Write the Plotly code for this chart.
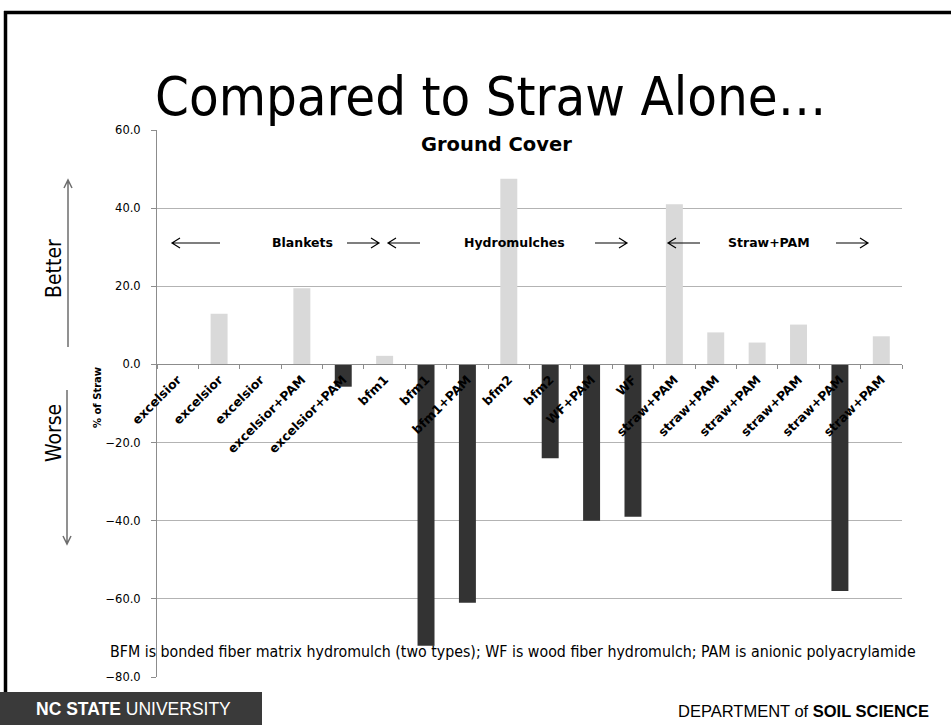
import plotly.graph_objects as go

# ---- data -------------------------------------------------------------
categories = [
    "excelsior", "excelsior", "excelsior", "excelsior+PAM", "excelsior+PAM",
    "bfm1", "bfm1", "bfm1+PAM", "bfm2", "bfm2", "WF+PAM", "WF",
    "straw+PAM", "straw+PAM", "straw+PAM", "straw+PAM", "straw+PAM", "straw+PAM",
]
pct_of_straw = [
    0.0, 13.0, 0.0, 19.5, -5.7,
    2.2, -72.0, -61.0, 47.5, -24.0, -40.0, -39.0,
    41.0, 8.2, 5.6, 10.2, -58.0, 7.2,
]
y_ticks = [-80, -60, -40, -20, 0, 20, 40, 60]
groups = ["Blankets", "Hydromulches", "Straw+PAM"]

# ---- page geometry (pixels) -----------------------------------------
FIG_W, FIG_H = 951, 725
L, R, T, B = 157, 902, 130, 677
PW, PH = R - L, B - T


def px(x):
    """pixel x -> paper x"""
    return (x - L) / PW


def py(y):
    """pixel y (from top) -> paper y"""
    return (B - y) / PH


LIGHT = "#d9d9d9"
DARK = "#333333"
bar_colors = [LIGHT if v >= 0 else DARK for v in pct_of_straw]
xpos = list(range(len(categories)))

fig = go.Figure(
    go.Bar(
        x=xpos,
        y=pct_of_straw,
        marker=dict(color=bar_colors, line=dict(width=0)),
        width=0.41,
        showlegend=False,
        hoverinfo="skip",
    )
)

FONT = "DejaVu Sans, Verdana, sans-serif"
COND = "DejaVu Sans Condensed, DejaVu Sans, sans-serif"
FOOT = "Liberation Sans, Arial, sans-serif"

fig.update_layout(
    width=FIG_W,
    height=FIG_H,
    margin=dict(l=L, r=FIG_W - R, t=T, b=FIG_H - B, pad=0),
    paper_bgcolor="white",
    plot_bgcolor="white",
    font=dict(family=FONT, color="black"),
    xaxis=dict(
        type="linear",
        range=[-0.5, len(categories) - 0.5],
        anchor="free",
        position=(0 - y_ticks[0]) / (y_ticks[-1] - y_ticks[0]),
        tickmode="array",
        tickvals=xpos,
        ticktext=categories,
        tickangle=-45,
        tickfont=dict(family=FONT, size=12.5, weight="bold", color="black"),
        ticks="",
        showgrid=False,
        zeroline=False,
        showline=True,
        linecolor="#8c8c8c",
        linewidth=1,
        minor=dict(
            tickmode="array",
            tickvals=[i - 0.5 for i in range(len(categories) + 1)],
            ticks="outside",
            ticklen=4,
            tickcolor="#8c8c8c",
            showgrid=False,
        ),
        ticklabelstandoff=2,
    ),
    yaxis=dict(
        range=[y_ticks[0], y_ticks[-1]],
        domain=[0, 1],
        tickmode="array",
        tickvals=y_ticks,
        tickformat=".1f",
        tickfont=dict(family=FONT, size=11.5, color="black"),
        ticks="outside",
        ticklen=5,
        tickcolor="#8c8c8c",
        ticklabelstandoff=8,
        showgrid=True,
        gridcolor="#b3b3b3",
        gridwidth=1,
        zeroline=False,
        showline=True,
        linecolor="#8c8c8c",
        linewidth=1,
    ),
)

ann = []
shapes = []

# slide title
ann.append(dict(text="Compared to Straw Alone…", x=px(490), y=py(96), xref="paper", yref="paper",
                xanchor="center", yanchor="middle", showarrow=False,
                font=dict(family=COND, size=54, color="black")))
# chart title
ann.append(dict(text="<b>Ground Cover</b>", x=px(496), y=py(144), xref="paper", yref="paper",
                xanchor="center", yanchor="middle", showarrow=False,
                font=dict(family=FONT, size=19.5, color="black")))
# y-axis title
ann.append(dict(text="<b>% of Straw</b>", x=px(97), y=py(398), xref="paper", yref="paper",
                xanchor="center", yanchor="middle", showarrow=False, textangle=-90,
                font=dict(family=FONT, size=10, color="black")))
# Better / Worse
ann.append(dict(text="Better", x=px(54), y=py(268), xref="paper", yref="paper",
                xanchor="center", yanchor="middle", showarrow=False, textangle=-90,
                font=dict(family=COND, size=21, color="black")))
ann.append(dict(text="Worse", x=px(54), y=py(433), xref="paper", yref="paper",
                xanchor="center", yanchor="middle", showarrow=False, textangle=-90,
                font=dict(family=COND, size=21, color="black")))
# group labels
for name, cx in zip(groups, [302, 514, 769]):
    ann.append(dict(text=f"<b>{name}</b>", x=px(cx), y=py(242), xref="paper", yref="paper",
                    xanchor="center", yanchor="middle", showarrow=False,
                    font=dict(family=FONT, size=12.5, color="black")))
# footnote
ann.append(dict(text="BFM is bonded fiber matrix hydromulch (two types); WF is wood fiber hydromulch; "
                     "PAM is anionic polyacrylamide",
                x=px(108), y=py(651), xref="paper", yref="paper",
                xanchor="left", yanchor="middle", showarrow=False,
                font=dict(family=COND, size=15.8, color="black")))
# footer
ann.append(dict(text="<b>NC STATE</b> UNIVERSITY", x=px(34), y=py(709), xref="paper", yref="paper",
                xanchor="left", yanchor="middle", showarrow=False,
                font=dict(family=FOOT, size=17.5, color="white")))
ann.append(dict(text="DEPARTMENT of <b>SOIL SCIENCE</b>", x=px(931), y=py(711), xref="paper", yref="paper",
                xanchor="right", yanchor="middle", showarrow=False,
                font=dict(family=FOOT, size=16.5, color="black")))


def harrow(x0, x1, y, color="black"):
    """thin horizontal arrow from x0 to x1 (pixels) with an open head"""
    d = 1 if x1 > x0 else -1
    path = (f"M{px(x0)},{py(y)} L{px(x1)},{py(y)} "
            f"M{px(x1 - d * 8)},{py(y - 5)} L{px(x1)},{py(y)} L{px(x1 - d * 8)},{py(y + 5)}")
    return dict(type="path", path=path, xref="paper", yref="paper",
                line=dict(color=color, width=1.2))


def varrow(x, y0, y1, color="#6e6e6e"):
    d = 1 if y1 > y0 else -1
    path = (f"M{px(x)},{py(y0)} L{px(x)},{py(y1)} "
            f"M{px(x - 4)},{py(y1 - d * 8)} L{px(x)},{py(y1)} L{px(x + 4)},{py(y1 - d * 8)}")
    return dict(type="path", path=path, xref="paper", yref="paper",
                line=dict(color=color, width=1.5))


for x0, x1 in [(220, 172), (347, 379), (420, 388), (595, 627), (700, 668), (836, 868)]:
    shapes.append(harrow(x0, x1, 243))
shapes.append(varrow(68, 347, 180))
shapes.append(varrow(67, 390, 544))

# slide frame and footer bar
shapes.append(dict(type="line", x0=px(5.5), x1=px(5.5), y0=py(11), y1=py(692), xref="paper", yref="paper",
                   line=dict(color="black", width=3.5)))
shapes.append(dict(type="line", x0=px(4), x1=px(951), y0=py(12.5), y1=py(12.5), xref="paper", yref="paper",
                   line=dict(color="black", width=3.5)))
shapes.append(dict(type="rect", x0=px(0), x1=px(262), y0=py(692), y1=py(725), xref="paper", yref="paper",
                   line=dict(width=0), fillcolor="#3a3a3a", layer="below"))

fig.update_layout(annotations=ann, shapes=shapes)
fig.write_html("out.html")
